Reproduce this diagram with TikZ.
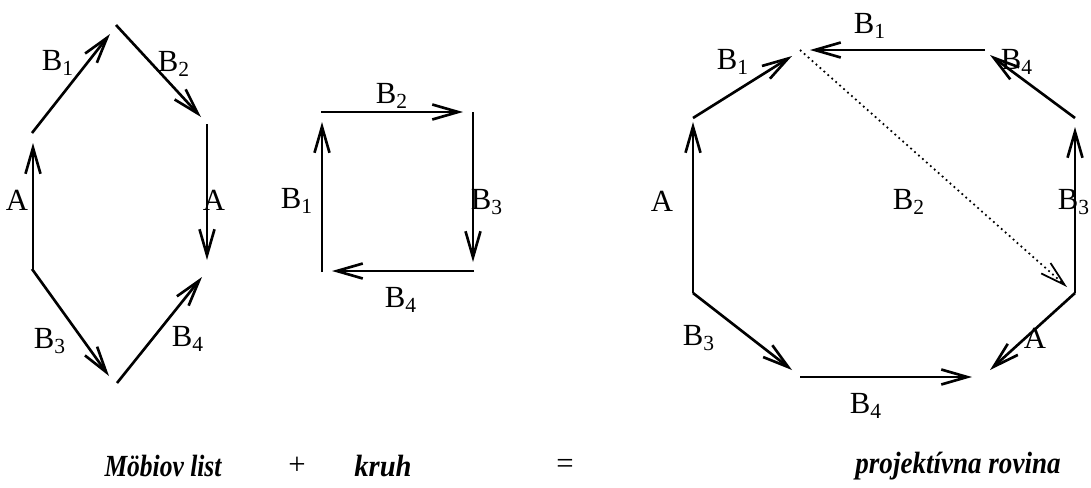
\documentclass[tikz,border=0pt]{standalone}
\usepackage{fontspec}
\setmainfont{Liberation Serif}
\usetikzlibrary{arrows.meta}
\tikzset{
    edge/.style={line width=1.5pt, -{Straight Barb[length=0.52cm,width=0.3cm]}},
    diag/.style={line width=1pt, dotted, -{Straight Barb[length=0.5cm,width=0.28cm]}},
    lbl/.style={font=\fontsize{17.5}{20}\selectfont, inner sep=0pt},
    popis/.style={font=\fontsize{17.5}{20}\selectfont\bfseries\itshape, inner sep=0pt}
}
\begin{document}
\begin{tikzpicture}[x=0.02cm, y=-0.02cm]
    \useasboundingbox (0,0) rectangle (1091,487);
    % Mobiov list
    \coordinate (mA1s) at (33,269);  \coordinate (mA1e) at (33,143);
    \coordinate (mB1s) at (32,133);  \coordinate (mB1e) at (110,34);
    \coordinate (mB2s) at (116,25);  \coordinate (mB2e) at (201,117);
    \coordinate (mA2s) at (207,124); \coordinate (mA2e) at (207,260);
    \coordinate (mB3s) at (32,269);  \coordinate (mB3e) at (109,376);
    \coordinate (mB4s) at (117,383); \coordinate (mB4e) at (202,277);

    \draw[edge] (mA1s) -- (mA1e);
    \draw[edge] (mB1s) -- (mB1e);
    \draw[edge] (mB2s) -- (mB2e);
    \draw[edge] (mA2s) -- (mA2e);
    \draw[edge] (mB3s) -- (mB3e);
    \draw[edge] (mB4s) -- (mB4e);

    \node[lbl] (mlA1) at (17,200) {A};
    \node[lbl] (mlB1) at (58,63) {B\textsubscript{1}};
    \node[lbl] (mlB2) at (174,64) {B\textsubscript{2}};
    \node[lbl] (mlA2) at (214,200) {A};
    \node[lbl] (mlB3) at (50,341) {B\textsubscript{3}};
    \node[lbl] (mlB4) at (188,339) {B\textsubscript{4}};

    % kruh
    \coordinate (kB2s) at (321,112); \coordinate (kB2e) at (463,112);
    \coordinate (kB3s) at (473,112); \coordinate (kB3e) at (473,262);
    \coordinate (kB4s) at (474,271); \coordinate (kB4e) at (332,271);
    \coordinate (kB1s) at (322,272); \coordinate (kB1e) at (322,122);

    \draw[edge] (kB2s) -- (kB2e);
    \draw[edge] (kB3s) -- (kB3e);
    \draw[edge] (kB4s) -- (kB4e);
    \draw[edge] (kB1s) -- (kB1e);

    \node[lbl] (klB1) at (297,201) {B\textsubscript{1}};
    \node[lbl] (klB2) at (392,96) {B\textsubscript{2}};
    \node[lbl] (klB3) at (487,202) {B\textsubscript{3}};
    \node[lbl] (klB4) at (401,300) {B\textsubscript{4}};

    % projektivna rovina
    \coordinate (pA1s) at (693,293);   \coordinate (pA1e) at (693,122);
    \coordinate (pB1s) at (693,118);   \coordinate (pB1e) at (792,56);
    \coordinate (pB1ts) at (985,50);   \coordinate (pB1te) at (810,50);
    \coordinate (pB4ts) at (1075,118); \coordinate (pB4te) at (990,55);
    \coordinate (pB3s) at (1075,293);  \coordinate (pB3e) at (1075,127);
    \coordinate (pAs) at (1075,293);   \coordinate (pAe) at (990,370);
    \coordinate (pB4s) at (800,377);   \coordinate (pB4e) at (972,377);
    \coordinate (pB3ls) at (693,293);  \coordinate (pB3le) at (792,370);
    \coordinate (pDs) at (800,50);     \coordinate (pDe) at (1067,287);

    \draw[edge] (pA1s) -- (pA1e);
    \draw[edge] (pB1s) -- (pB1e);
    \draw[edge] (pB1ts) -- (pB1te);
    \draw[edge] (pB4ts) -- (pB4te);
    \draw[edge] (pB3s) -- (pB3e);
    \draw[edge] (pAs) -- (pAe);
    \draw[edge] (pB4s) -- (pB4e);
    \draw[edge] (pB3ls) -- (pB3le);
    \draw[diag] (pDs) -- (pDe);

    \node[lbl] (plA1) at (662,201) {A};
    \node[lbl] (plB1) at (733,62) {B\textsubscript{1}};
    \node[lbl] (plB1t) at (870,26) {B\textsubscript{1}};
    \node[lbl] (plB4t) at (1017,62) {B\textsubscript{4}};
    \node[lbl] (plB2) at (909,202) {B\textsubscript{2}};
    \node[lbl] (plB3) at (1074,202) {B\textsubscript{3}};
    \node[lbl] (plA2) at (1035,338) {A};
    \node[lbl] (plB3l) at (699,338) {B\textsubscript{3}};
    \node[lbl] (plB4) at (866,406) {B\textsubscript{4}};

    % popis
    \node[popis] (cMob) at (163,466) {\scalebox{0.83}[1]{Möbiov list}};
    \node[font=\fontsize{17.5}{20}\selectfont, inner sep=0pt] (cPlus) at (297,466) {+};
    \node[popis] (cKruh) at (383,466) {\scalebox{0.93}[1]{kruh}};
    \node[font=\fontsize{17.5}{20}\selectfont, inner sep=0pt] (cEq) at (565,466) {=};
    \node[popis] (cProj) at (958,466) {\scalebox{0.88}[1]{projektívna rovina}};
\end{tikzpicture}
\end{document}
